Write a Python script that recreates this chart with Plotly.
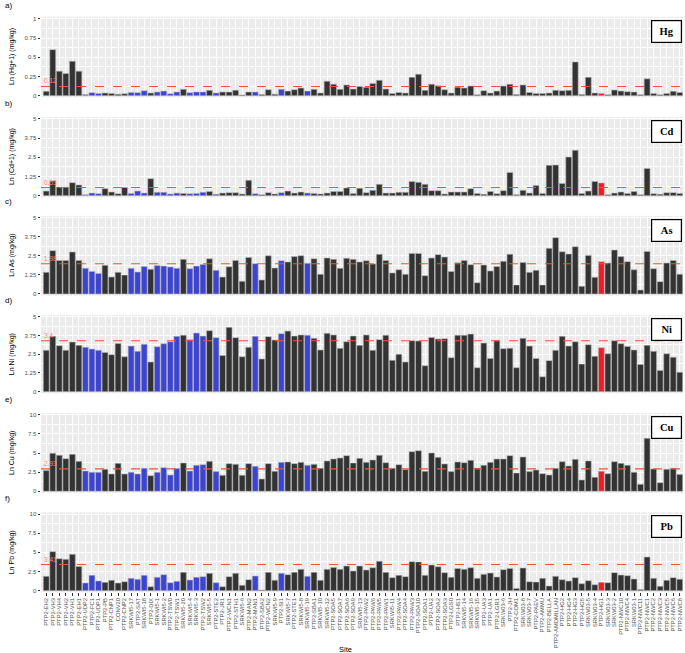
import plotly.graph_objects as go

sites = ["PTP2-EH2","PTP2-VH3","PTP2-VH4","PTP2-VH2","PTP2-VH1","PTP2-EH1","PTP2-UDP2","PTP2-FC1","PTP2-UDP1","PTP2-PB",
         "PTP2-CNP1","CONV20","PTP2-CNP2","SRKWI5-17","PTP2-SAT","SRKWI5-18","PTP2-DIX","SRKWI5-1","SRKWI5-2","PTP2-TSW0",
         "PTP2-TSW1","SRKWI5-20","SRKWI5-4","SRKWI5-3","PTP2-TSW2","SRKWI5-5","PTP2-STE2","PTP2-JR1","PTP2-WCN1","PTP2-STH1",
         "SRKWI5-6","PTP2-MAN2","PTP2-MAN1","PTP2-SBA2","PTP2-WCN2","SRKWI5-9","PTP2-SI1","SRKWI5-7","PTP2-STE1","SRKWI5-8",
         "SRKWI5-19","PTP2-SBA1","SRKWI5-10","SRKWI5-12","PTP2-SOA5","PTP2-SOA7","PTP2-SOA6","PTP2-SOA9","SRKWI5-13","PTP2-PAW2",
         "PTP2-PAW6","PTP2-PAW5","PTP2-PAW1","SRKWI5-11","PTP2-PAW4","PTP2-SOA4","PTP2-PAW3","PTP2-SOA10","PTP2-SOA1","PTP2-UA2",
         "PTP2-SOA2","PTP2-SOA3","PTP2-LGS0","PTP2-HS1","SRKWI5-14","SRKWI5-16","SRKWI5-15","PTP2-UA3","PTP2-UA1","PTP2-LGR1",
         "SRKW03-6","PTP2-JH","PTP2-COM1","SRKW03-8","SRKW03-7","PTP2-PAEV","PTP2-AMMU","PTP2-BELLA","PTP2-AMDMILLAN","PTP2-HG2",
         "PTP2-HG4","PTP2-HG3","PTP2-HG5","SRKW03-5","SRKW03-4","PTP2-HG1","SRKW03-3","SRKW03-2","PTP2-NWC10","PTP2-NWC4",
         "SRKW03-1","PTP2-NWC11","PTP2-NWC1","PTP2-NWC2","PTP2-NWC3","PTP2-NWC5","PTP2-NWC6","PTP2-NWC8"]

# group of each site: k = standard, b = blue, r = red
groups = ["k"]*98
for i in [7,8,9,14,15,16,18,19,20,21,23,24,25,27,33,37,41]:
    groups[i-1] = "b"
groups[85] = "r"

hg = [0.057,0.60,0.32,0.29,0.45,0.32,0.017,0.04,0.03,0.035,
      0.03,0.02,0.025,0.043,0.04,0.065,0.035,0.048,0.06,0.025,
      0.048,0.083,0.04,0.048,0.048,0.07,0.035,0.048,0.048,0.072,
      0.01,0.048,0.048,0.015,0.078,0.02,0.083,0.06,0.078,0.1,
      0.06,0.083,0.035,0.19,0.15,0.083,0.14,0.087,0.12,0.11,
      0.16,0.2,0.087,0.03,0.043,0.035,0.24,0.28,0.07,0.15,
      0.13,0.078,0.035,0.11,0.10,0.126,0.013,0.065,0.035,0.06,
      0.126,0.15,0.017,0.14,0.043,0.03,0.03,0.035,0.07,0.065,
      0.07,0.44,0.017,0.24,0.035,0.03,0.013,0.074,0.06,0.052,
      0.048,0.013,0.22,0.03,0.013,0.03,0.057,0.043]
cd = [0.30,0.96,0.57,0.57,0.85,0.70,0.06,0.17,0.13,0.46,
      0.24,0.13,0.54,0.15,0.30,0.17,1.11,0.22,0.22,0.11,
      0.17,0.15,0.13,0.15,0.22,0.28,0.09,0.17,0.2,0.2,
      0.11,1.0,0.13,0.07,0.2,0.11,0.2,0.3,0.17,0.24,
      0.17,0.15,0.11,0.17,0.28,0.28,0.5,0.15,0.48,0.2,
      0.35,0.74,0.17,0.17,0.22,0.22,0.93,0.87,0.74,0.33,
      0.33,0.11,0.24,0.24,0.24,0.46,0.15,0.09,0.28,0.13,
      0.33,1.52,0.07,0.35,0.17,0.67,0.15,1.98,2.0,0.8,
      2.52,2.96,0.15,0.3,0.93,0.83,0.07,0.17,0.24,0.15,
      0.28,0.07,1.78,0.13,0.1,0.2,0.2,0.15]
as_ = [1.42,2.84,2.2,2.2,2.75,2.2,1.68,1.48,1.35,1.88,
       1.11,1.42,1.24,1.68,1.44,1.81,1.62,1.86,1.83,1.77,
       1.68,2.27,1.66,1.83,1.94,2.31,1.55,1.11,1.79,2.2,
       0.83,2.4,1.99,0.92,2.51,1.7,2.18,2.1,2.45,2.51,
       2.01,2.31,1.29,2.36,2.27,1.68,2.34,2.27,2.1,2.18,
       1.97,2.6,2.2,1.38,1.59,1.29,2.66,2.66,1.2,2.36,
       2.58,2.42,1.48,2.05,2.2,1.92,0.74,1.9,1.51,1.81,
       2.14,2.6,0.59,2.07,1.42,1.55,0.59,2.99,3.69,2.77,
       2.62,3.1,0.5,2.53,1.09,2.12,2.03,2.88,2.45,2.12,
       1.59,0.26,2.79,1.66,0.81,2.03,2.2,1.3]
ni = [2.76,3.69,3.07,2.76,3.31,3.09,2.96,2.84,2.76,2.62,
      2.47,3.22,2.33,3.04,2.69,3.16,1.98,3.0,3.2,3.33,
      3.69,3.76,3.47,3.91,3.71,4.07,3.6,2.42,4.29,3.6,
      2.33,2.96,3.69,2.18,3.67,3.44,3.87,4.04,3.71,3.78,
      3.76,3.56,2.78,3.89,3.78,2.89,3.33,3.71,3.09,3.78,
      2.76,3.47,3.76,2.09,2.49,1.98,3.4,3.38,1.73,3.62,
      3.51,3.53,2.27,3.76,3.76,3.84,1.6,3.24,2.22,3.4,
      2.87,2.9,1.6,3.56,3.04,2.22,1.0,2.07,2.76,3.69,
      3.04,3.33,1.84,3.13,2.36,2.93,2.53,3.4,3.2,3.02,
      2.78,1.82,3.09,2.69,1.42,2.53,2.3,1.3]
cu = [2.7,4.96,4.7,4.26,4.83,3.91,2.65,2.48,2.48,2.87,
      2.26,3.65,2.26,2.48,2.26,3.0,2.04,2.48,3.09,2.13,
      2.96,3.7,2.65,3.39,3.48,3.91,2.57,2.09,3.61,3.52,
      2.09,3.61,3.26,1.61,3.61,2.61,3.78,3.83,3.61,3.78,
      3.39,3.52,3.0,3.96,4.22,4.35,4.65,3.7,4.3,3.78,
      4.09,4.7,3.74,3.0,3.48,2.83,5.17,5.3,2.61,5.0,
      4.43,3.57,2.57,3.83,3.74,4.04,3.04,3.39,3.78,4.22,
      4.22,4.65,2.39,4.48,2.57,2.78,2.3,2.13,3.0,3.87,
      3.3,4.17,1.48,3.96,1.83,2.61,2.3,3.87,3.65,3.39,
      2.48,0.91,6.91,2.91,1.13,2.87,3.0,2.2]
pb = [1.87,5.09,4.17,4.09,4.74,3.17,1.0,2.0,1.26,1.09,
      1.35,1.0,1.17,1.61,1.48,2.0,0.52,1.74,2.09,1.04,
      1.22,2.39,1.39,1.74,1.83,2.26,1.04,0.52,1.83,2.26,
      0.7,1.43,1.91,0.1,2.39,1.35,2.26,2.09,2.39,2.78,
      1.87,2.39,1.35,2.78,3.04,2.78,3.22,2.57,3.22,2.7,
      3.0,3.83,2.39,1.7,2.0,1.83,3.78,3.74,2.0,3.35,
      3.13,2.35,1.74,2.91,2.78,3.0,1.61,2.13,2.3,1.78,
      2.74,2.91,0.3,2.96,1.17,1.13,1.61,0.61,1.87,1.43,
      1.26,1.7,0.91,1.3,0.78,1.09,1.04,2.35,2.04,1.96,
      1.52,0.17,4.39,1.61,0.57,1.35,1.7,1.5]

elements = ["Hg","Cd","As","Ni","Cu","Pb"]
panel_tags = ["a)","b)","c)","d)","e)","f)"]
y_titles = ["Ln (Hg+1) (mg/kg)","Ln (Cd+1) (mg/kg)","Ln As (mg/kg)","Ln Ni (mg/kg)","Ln Cu (mg/kg)","Ln Pb (mg/kg)"]
thresholds = [0.12, 0.53, 1.98, 3.4, 2.93, 3.41]
threshold_labels = ["0.12", "0.53", "1.98", "3.4", "2.93", "3.41"]
tick_vals = [[0,0.25,0.5,0.75,1]] + [[0,1.25,2.5,3.75,5]]*3 + [[0,2.5,5,7.5,10]]*2
tick_text = [["0","0.25","0.5","0.75","1"]] + [["0","1.25","2.5","3.75","5"]]*3 + [["0","2.5","5","7.5","10"]]*2
series = [hg, cd, as_, ni, cu, pb]

# layout geometry (pixels)
W, H = 685, 653
ML, MR = 41, 2
zero_px = [95.7, 195.7, 294.0, 391.7, 491.3, 590.7]
ppu = [76.7, 15.34, 15.26, 15.0, 7.66, 7.67]
yr = [(-0.02, 1.03), (-0.1, 5.13), (-0.1, 5.12), (-0.1, 5.11), (-0.2, 10.22), (-0.2, 10.22)]
tag_y = [5, 103, 201, 300, 399, 498]

color_map = {"k": "#333333", "b": "#3d44cf", "r": "#ee1c25"}
colors = [color_map[g] for g in groups]

fig = go.Figure()
layout = dict(
    width=W, height=H,
    margin=dict(l=ML, r=MR, t=0, b=0),
    paper_bgcolor="white", plot_bgcolor="#EBEBEB",
    showlegend=False,
    font=dict(family="Arial, Liberation Sans, sans-serif", color="black"),
    bargap=0.1,
)
annotations = []
shapes = []
for i in range(6):
    n = "" if i == 0 else str(i + 1)
    fig.add_trace(go.Bar(
        x=sites, y=series[i], xaxis="x" + n, yaxis="y" + n,
        marker=dict(color=colors, line=dict(color="#b8b8b8", width=0.6)),
        width=0.9, hoverinfo="x+y"))
    top_px = zero_px[i] - yr[i][1] * ppu[i]
    bot_px = zero_px[i] - yr[i][0] * ppu[i]
    dom = [1 - bot_px / H, 1 - top_px / H]
    last = (i == 5)
    layout["xaxis" + n] = dict(
        domain=[0, 1], anchor="y" + n, type="category",
        categoryorder="array", categoryarray=sites,
        range=[-0.8, 97.5], showgrid=True, gridcolor="white", gridwidth=1,
        zeroline=False, showline=False, automargin=False,
        showticklabels=last, ticks="outside" if last else "",
        ticklen=2.5, tickcolor="#333333", tickwidth=0.6,
        tickmode="array", tickvals=sites, ticktext=sites,
        tickangle=-90, tickfont=dict(size=5.8, color="#4D4D4D"),
        fixedrange=True)
    step = tick_vals[i][1]
    layout["yaxis" + n] = dict(
        domain=dom, anchor="x" + n, range=list(yr[i]),
        tickmode="array", tickvals=tick_vals[i], ticktext=tick_text[i],
        tickfont=dict(size=6, color="#4D4D4D"),
        ticks="outside", ticklen=2.5, tickcolor="#333333", tickwidth=0.6,
        showgrid=True, gridcolor="white", gridwidth=1,
        minor=dict(tickmode="linear", tick0=step / 2, dtick=step, showgrid=True,
                   gridcolor="white", gridwidth=0.5, ticks=""),
        zeroline=False, showline=False, automargin=False, fixedrange=True)
    # threshold line
    shapes.append(dict(type="line", xref="x" + n + " domain", x0=0, x1=1,
                       yref="y" + n, y0=thresholds[i], y1=thresholds[i],
                       line=dict(color="#EE553A", width=1.1, dash="dash")))
    annotations.append(dict(xref="x" + n + " domain", x=0, xanchor="left", xshift=1,
                            yref="y" + n, y=thresholds[i], yanchor="bottom", yshift=0,
                            text=threshold_labels[i], showarrow=False,
                            font=dict(size=6.5, color="#F4836F")))
    # element box
    annotations.append(dict(xref="x" + n + " domain", x=1, xanchor="right", xshift=-1,
                            yref="y" + n + " domain", y=1, yanchor="top", yshift=-3,
                            text="<b>" + elements[i] + "</b>", showarrow=False,
                            font=dict(size=10.5, color="black",
                                      family="Liberation Serif, Times New Roman, serif"),
                            bgcolor="white", bordercolor="black", borderwidth=1.2,
                            borderpad=3, width=23, height=15))
    # panel tag
    annotations.append(dict(xref="paper", x=(3 - ML) / (W - ML - MR), xanchor="left",
                            yref="paper", y=1 - tag_y[i] / H, yanchor="middle",
                            text=panel_tags[i], showarrow=False,
                            font=dict(size=8, color="black")))
    # y title
    annotations.append(dict(xref="paper", x=(12 - ML) / (W - ML - MR), xanchor="center",
                            yref="paper", y=(dom[0] + dom[1]) / 2, yanchor="middle",
                            text=y_titles[i], textangle=-90, showarrow=False,
                            font=dict(size=7, color="black")))

annotations.append(dict(xref="paper", x=(345 - ML) / (W - ML - MR), xanchor="center",
                        yref="paper", y=1 - 649 / H, yanchor="middle",
                        text="Site", showarrow=False, font=dict(size=7.5, color="black")))
layout["annotations"] = annotations
layout["shapes"] = shapes
fig.update_layout(**layout)
fig.write_html("out.html", config={"displayModeBar": False},
               post_script="document.body.style.margin='0';document.body.style.overflow='hidden';")
